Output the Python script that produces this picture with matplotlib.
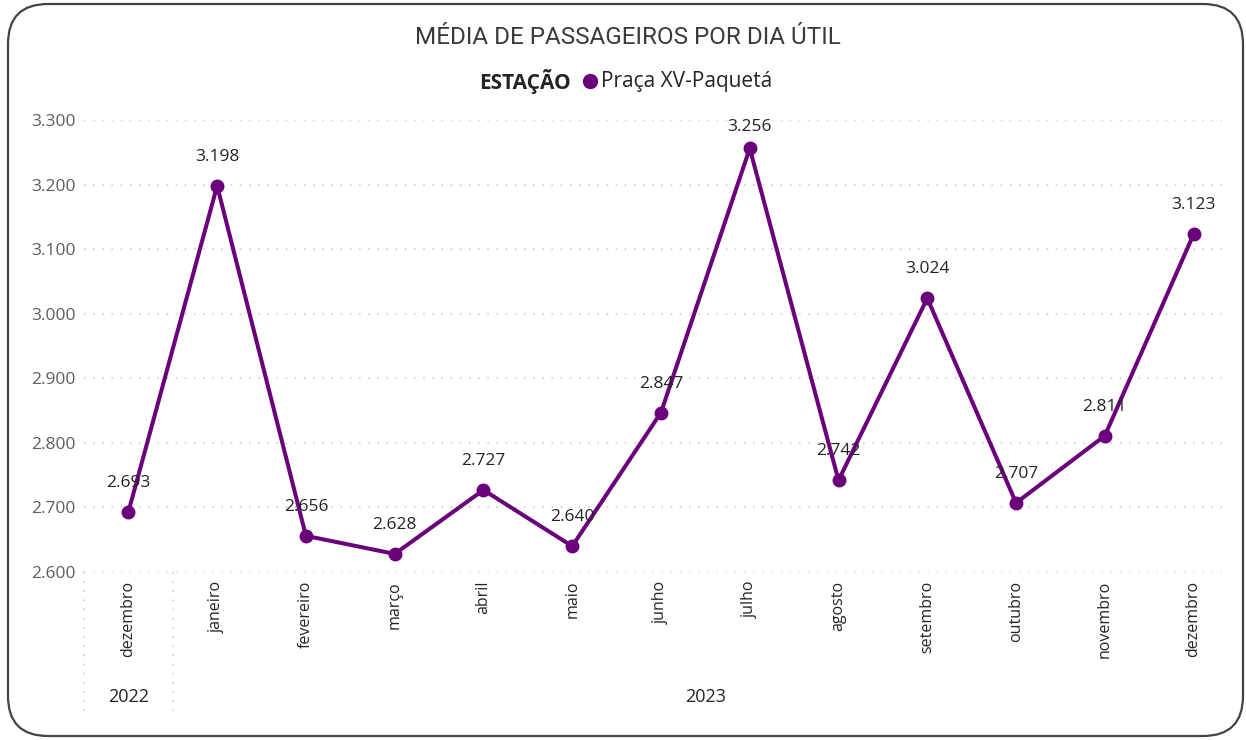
import matplotlib
matplotlib.use("Agg")
import matplotlib.pyplot as plt
import matplotlib.transforms as mtransforms
from matplotlib.patches import FancyBboxPatch
from matplotlib.ticker import FuncFormatter

months = ["dezembro", "janeiro", "fevereiro", "março", "abril", "maio", "junho",
          "julho", "agosto", "setembro", "outubro", "novembro", "dezembro"]
years = ["2022", "2023"]
year_spans = [(0, 0), (1, 12)]
values = [2693, 3198, 2656, 2628, 2727, 2640, 2847, 3256, 2742, 3024, 2707, 2811, 3123]
yticks = [2600, 2700, 2800, 2900, 3000, 3100, 3200, 3300]
title = "MÉDIA DE PASSAGEIROS POR DIA ÚTIL"
legend_title = "ESTAÇÃO"
series_name = "Praça XV-Paquetá"

plt.rcParams['font.family'] = ['Open Sans', 'DejaVu Sans']
W, H = 1246, 740
fig = plt.figure(figsize=(W / 100, H / 100), dpi=100)
fig.patch.set_facecolor("white")

purple = "#6B007B"
dark = "#252423"
gray = "#605E5C"

ax_top, ax_bot = 120, 572
ax = fig.add_axes([84 / W, 1 - ax_bot / H, (1222 - 84) / W, (ax_bot - ax_top) / H])
x = list(range(len(values)))
ax.plot(x, values, color=purple, lw=2.9, marker="o", ms=9, zorder=3,
        solid_joinstyle="round")
ax.set_xlim(-0.5, 12.32)
ax.set_ylim(2600, 3300)

# data labels: ~29px above the point, but kept inside the plot area
ax_h = ax_bot - ax_top
px_per_unit = ax_h / (3300 - 2600)
for xi, v in zip(x, values):
    pt_px = ax_bot - (v - 2600) * px_per_unit
    lab_px = max(pt_px - 29, 127)
    off_pt = (pt_px - lab_px) * 72 / 100
    ax.annotate(f"{v/1000:.3f}", (xi, v), xytext=(0, off_pt), textcoords="offset points",
                ha="center", va="center", fontsize=12.5, color=dark, zorder=4)

ax.set_yticks(yticks)
ax.yaxis.set_major_formatter(FuncFormatter(lambda v, p: f"{v/1000:.3f}"))
ax.tick_params(axis="y", length=0, labelsize=12.5, labelcolor=gray, pad=6)
ax.set_xticks([])
for s in ax.spines.values():
    s.set_visible(False)
ax.grid(axis="y", color="#C8C6C4", linestyle=(0, (1, 5)), lw=1.1)
ax.set_axisbelow(True)

# category labels
trans = mtransforms.blended_transform_factory(ax.transData, ax.transAxes)
for xi, m in enumerate(months):
    ax.text(xi, -9 / ax_h, m, rotation=90, ha="center", va="top",
            fontsize=11.5, color=dark, transform=trans)
for (a, b), yr in zip(year_spans, years):
    ax.text((a + b) / 2, -(697 - ax_bot) / ax_h, yr, ha="center", va="center",
            fontsize=13, color=dark, transform=trans)
for sep in [-0.5, 0.5]:
    ax.plot([sep, sep], [0, -(715 - ax_bot) / ax_h], transform=trans, clip_on=False,
            color="#C8C6C4", linestyle=(0, (1, 5)), lw=1.1)

# title and legend
fig.text(628 / W, 1 - 37 / H, title, ha="center", va="center", fontsize=17.5,
         color="#3B3A39", family=["Roboto", "DejaVu Sans"])
fig.text(571 / W, 1 - 81 / H, legend_title, ha="right", va="center", fontsize=15,
         fontweight="bold", color=dark)
fig.lines.append(plt.Line2D([590 / W], [1 - 81 / H], marker="o", ms=10, color=purple,
                            transform=fig.transFigure))
fig.text(601 / W, 1 - 81 / H, series_name, ha="left", va="center", fontsize=15,
         color=dark)

# rounded border
border = FancyBboxPatch((8 + 40, 4 + 40), (1243 - 8) - 80, (736 - 4) - 80,
                        boxstyle="round,pad=40", transform=mtransforms.IdentityTransform(),
                        facecolor="none", edgecolor="#444444", lw=1.6)
fig.patches.append(border)

fig.savefig("out.png", dpi=100)
